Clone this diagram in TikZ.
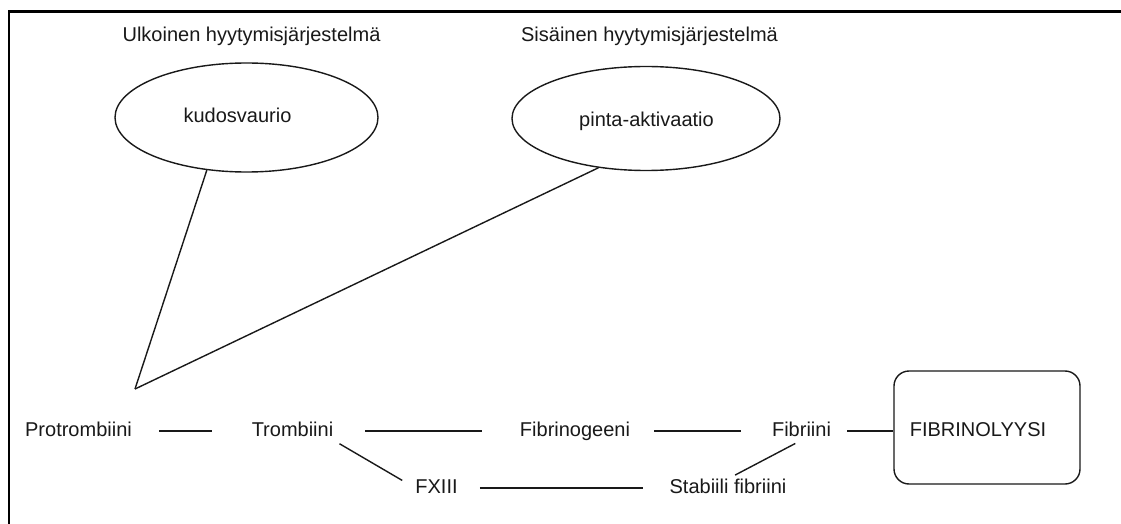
\documentclass[tikz,border=0pt]{standalone}
\usepackage{fontspec}
\setmainfont{Liberation Sans}
\usetikzlibrary{shapes.geometric}
\begin{document}
\begin{tikzpicture}[x=1pt,y=-1pt,
  txt/.style={inner sep=0pt, text height=14pt, text depth=4pt, anchor=base,
              font=\fontsize{20}{24}\selectfont, text=black!90},
  link/.style={line width=1.4pt, draw=black!90},
  oval/.style={ellipse, draw=black!90, line width=1.4pt, inner sep=0pt},
  roundbox/.style={rectangle, rounded corners=15pt, draw=black!90, line width=1.4pt, inner sep=0pt},
  frame/.style={line width=2.7pt, draw=black}
]
\useasboundingbox (0,0) rectangle (1121,524);
\fill[white] (0,0) rectangle (1121,524);

% outer frame (open at right and bottom)
\draw[frame] (9,524) -- (9,11.5) -- (1121,11.5);

% system headings
\node[txt, minimum width=273pt] (hext) at (251.5,42) {Ulkoinen hyytymisjärjestelmä};
\node[txt, minimum width=275pt] (hint) at (649.5,42) {Sisäinen hyytymisjärjestelmä};

% trigger ellipses and their texts
\node[oval, minimum width=263pt, minimum height=109pt] (ell1) at (246.5,117.5) {};
\node[oval, minimum width=268pt, minimum height=104pt] (ell2) at (646,118.5) {};
\node[txt, minimum width=119pt] (kudos) at (237.5,123) {kudosvaurio};
\node[txt, minimum width=143pt] (pinta) at (646.5,126.5) {pinta-aktivaatio};

% junction of both pathways
\coordinate (join) at (135,389);
\draw[link] (ell1.233) -- (join);
\draw[link] (ell2.226) -- (join);

% main cascade
\node[txt, minimum width=103pt] (prot) at (78.5,436) {Protrombiini};
\node[txt, minimum width=75pt] (tromb) at (292.5,436) {Trombiini};
\node[txt, minimum width=116pt] (fgen) at (575,436) {Fibrinogeeni};
\node[txt, minimum width=57pt] (fib) at (801.5,436) {Fibriini};
\node[roundbox, minimum width=186pt, minimum height=113pt] (lys) at (987,427.5) {};
\node[txt, minimum width=130pt] (lystxt) at (978,436) {FIBRINOLYYSI};

% stabilisation branch
\node[txt, minimum width=37pt] (fx) at (436.5,493) {FXIII};
\node[txt, minimum width=112pt] (stab) at (728,493) {Stabiili fibriini};

% connectors
\draw[link, shorten <=27pt, shorten >=40pt] (prot.east) -- (tromb.west);
\draw[link, shorten <=32pt, shorten >=35pt] (tromb.east) -- (fgen.west);
\draw[link, shorten <=21pt, shorten >=31pt] (fgen.east) -- (fib.west);
\draw[link, shorten <=16pt] (fib.east) -- (fib.east -| lys.west);
\draw[link, shorten <=7pt, shorten >=15pt] (tromb.south east) -- (fx.west);
\draw[link, shorten <=22pt, shorten >=26pt] (fx.east) -- (stab.west);
\draw[link, shorten <=8pt, shorten >=7pt] (stab.north) -- (fib.south);
\end{tikzpicture}
\end{document}
